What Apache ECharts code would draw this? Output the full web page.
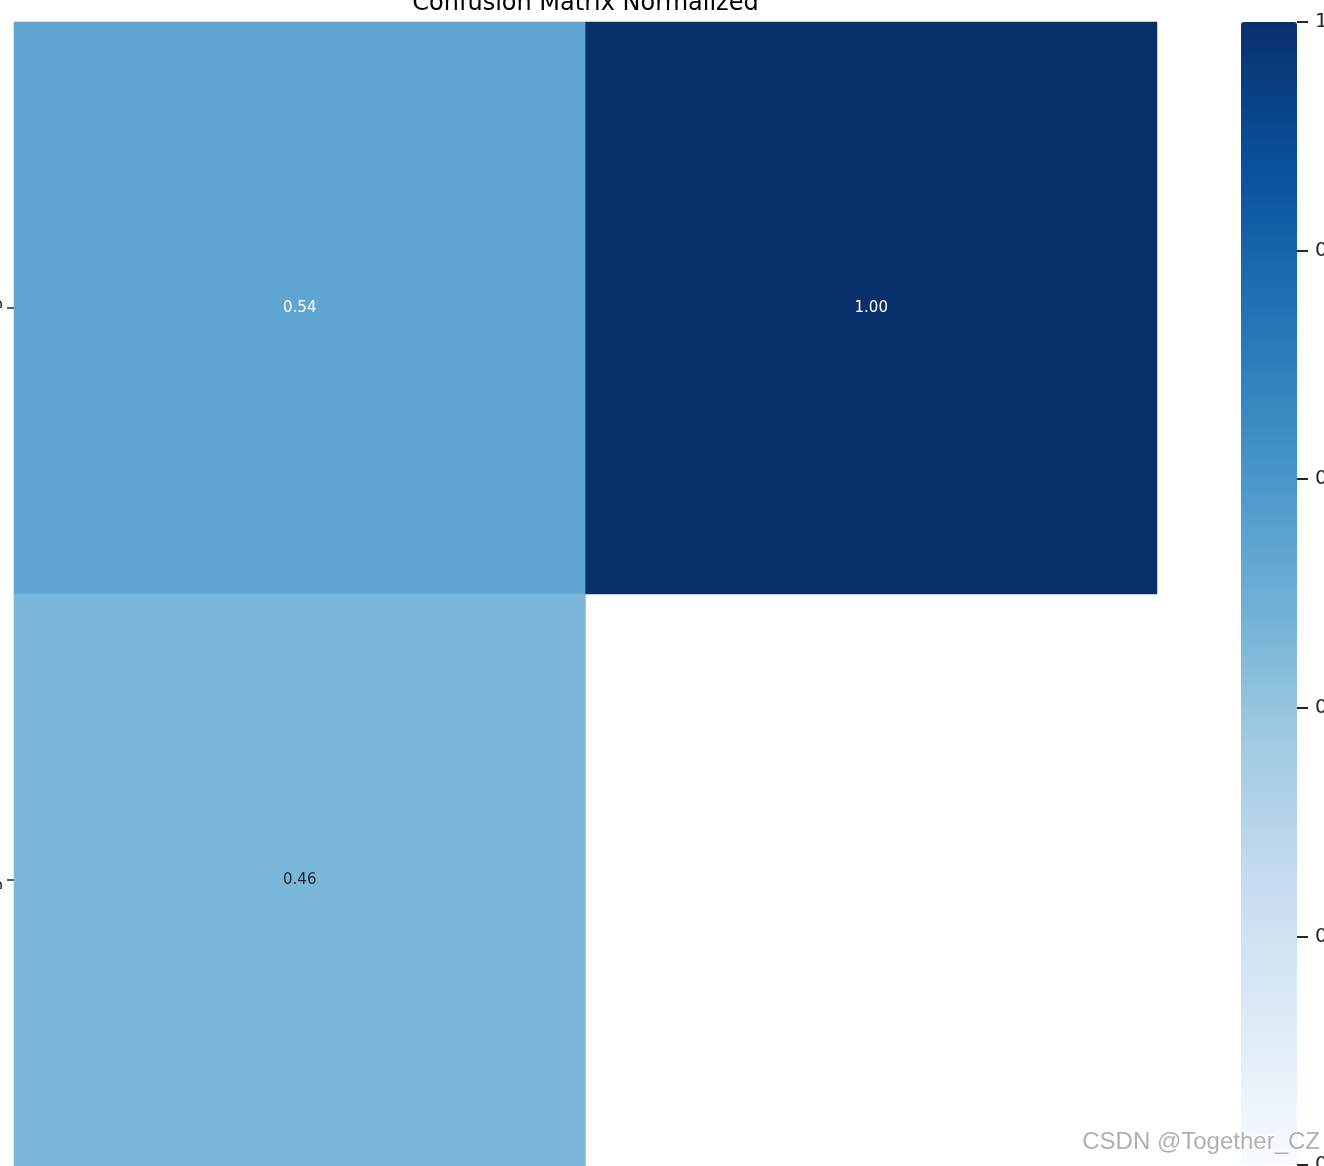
<!DOCTYPE html>
<html>
<head>
<meta charset="utf-8">
<style>
  html, body { margin: 0; padding: 0; background: #ffffff; }
  #chart { width: 1324px; height: 1166px; }
</style>
<script src="https://cdn.jsdelivr.net/npm/echarts@6/dist/echarts.min.js"></script>
</head>
<body>
<div id="chart"></div>
<script>
// ---- data ----
const titleText = 'Confusion Matrix Normalized';
const xLabels = ['target', 'background'];          // predicted (columns)
const yLabels = ['target', 'background'];          // true (rows, top to bottom)
const row0 = [0.54, 1.00];
const row1 = [0.46, null];                          // empty cell (NaN)
const colorbarTicks = [0, 0.2, 0.4, 0.6, 0.8, 1.0];
const blues = ['#f7fbff', '#deebf7', '#c6dbef', '#9ecae1', '#6baed6',
               '#4292c6', '#2171b5', '#08519c', '#08306b'];
const watermark = 'CSDN @Together_CZ';

const rows = [row0, row1];
const heatData = [];
rows.forEach((r, yi) => {
  r.forEach((v, xi) => {
    if (v === null) return;
    heatData.push({
      value: [xi, yi, v],
      label: { color: v > 0.5 ? '#ffffff' : '#262626' }
    });
  });
});

const chart = echarts.init(document.getElementById('chart'), null, { renderer: 'canvas' });
const font = '"DejaVu Sans", sans-serif';

chart.setOption({
  animation: false,
  backgroundColor: '#ffffff',
  grid: [
    { left: 14, top: 22, width: 1143, height: 1144, containLabel: false, outerBoundsMode: 'none' },
    { left: 1241, top: 22, width: 56, height: 1143, containLabel: false, outerBoundsMode: 'none' }
  ],
  xAxis: [
    {
      type: 'category', gridIndex: 0, data: xLabels, position: 'bottom',
      axisLine: { show: false }, axisTick: { show: false }, axisLabel: { show: false },
      splitLine: { show: false }, splitArea: { show: false }
    },
    {
      type: 'value', gridIndex: 1, show: false, min: 0, max: 1
    }
  ],
  yAxis: [
    {
      type: 'category', gridIndex: 0, data: yLabels, inverse: true,
      axisLine: { show: false, onZero: false },
      axisTick: { show: true, alignWithLabel: true, length: 7, lineStyle: { color: '#262626', width: 1.5 } },
      axisLabel: { show: true, rotate: 90, margin: 11, fontSize: 20, fontFamily: font, color: '#262626' },
      splitLine: { show: false }, splitArea: { show: false }
    },
    {
      type: 'value', gridIndex: 1, position: 'right', min: 0, max: 1, interval: 0.2,
      axisLine: { show: false, onZero: false },
      axisTick: { show: true, inside: false, length: 11, lineStyle: { color: '#262626', width: 2 } },
      axisLabel: {
        show: true, margin: 18, fontSize: 20, fontFamily: font, color: '#262626',
        formatter: v => colorbarTicks.includes(+v.toFixed(1)) ? v.toFixed(1) : ''
      },
      splitLine: { show: false }
    }
  ],
  visualMap: {
    type: 'continuous',
    seriesIndex: 0,
    min: 0, max: 1,
    calculable: false,
    realtime: false,
    orient: 'vertical',
    left: 1241, top: 22,
    padding: 0,
    itemWidth: 56, itemHeight: 1143,
    inRange: { color: blues },
    text: null,
    showLabel: false,
    hoverLink: false
  },
  series: [
    {
      type: 'heatmap',
      xAxisIndex: 0, yAxisIndex: 0,
      data: heatData,
      label: {
        show: true, fontSize: 15, fontFamily: font,
        formatter: p => p.value[2].toFixed(2)
      },
      itemStyle: { borderWidth: 0 },
      emphasis: { disabled: true }
    },
    {
      type: 'line', xAxisIndex: 1, yAxisIndex: 1, data: [], silent: true
    }
  ],
  graphic: [
    {
      type: 'text', silent: true,
      style: {
        text: titleText, x: 585.5, y: -8, align: 'center', verticalAlign: 'top',
        font: '24px "DejaVu Sans", sans-serif', fill: '#000000'
      }
    },
    {
      type: 'text', silent: true, z: 100,
      style: {
        text: watermark, x: 1320, y: 1130, align: 'right', verticalAlign: 'top',
        font: '24px "Liberation Sans", Arial, sans-serif', fill: '#b0b0b0',
        stroke: 'rgba(255,255,255,0.9)', lineWidth: 2
      }
    }
  ]
});
</script>
</body>
</html>
